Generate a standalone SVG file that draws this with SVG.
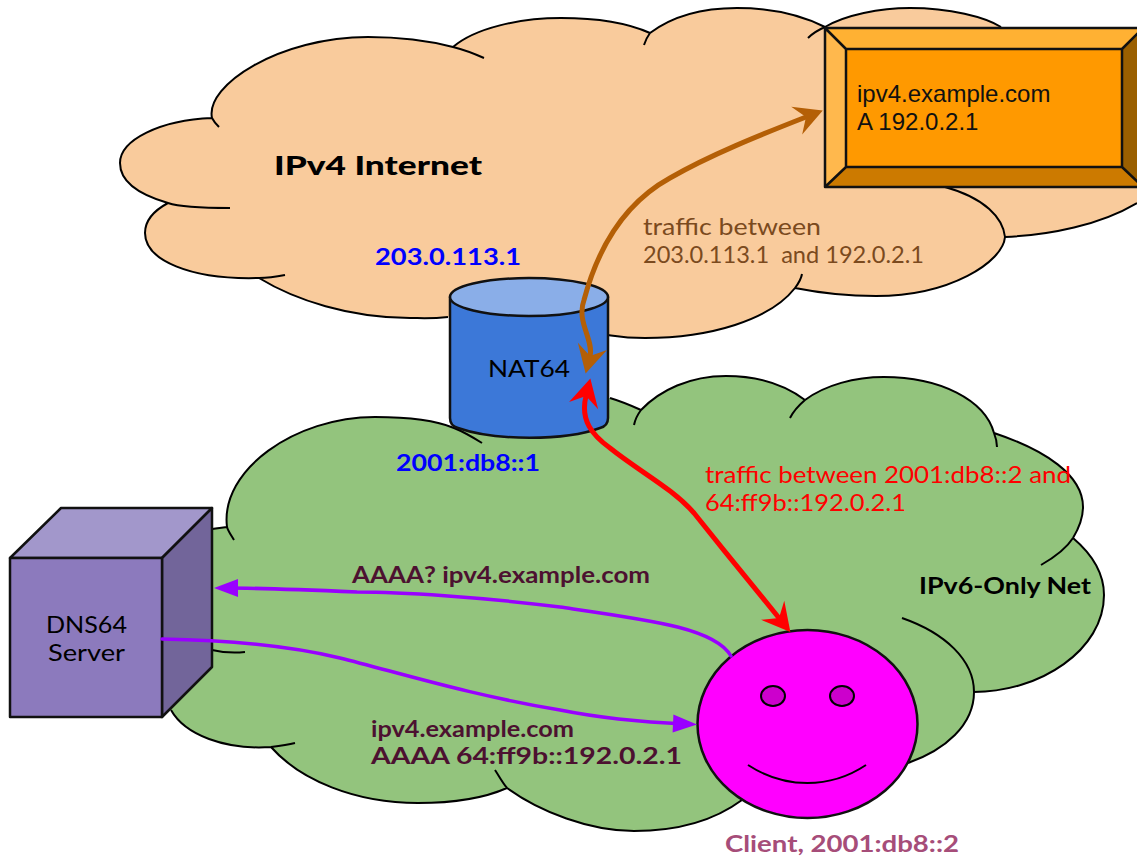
<svg xmlns="http://www.w3.org/2000/svg" width="1137" height="857" viewBox="0 0 1137 857">
<style>
text{font-family:Lato,"Noto Sans",sans-serif;font-size:23px}
.b{font-weight:700}
.bb{font-weight:900;font-size:26px}
.l{stroke:#000;stroke-width:2;fill:none}
.s{stroke:#111;stroke-width:2.5;stroke-linejoin:round}
.br{fill:#7b4a1e}.rd{fill:#ff0000}.bl{fill:#0000ff}.pu{fill:#4c1130}
.a{fill:none;stroke-linecap:round}
.ar{font-family:"Liberation Sans",Arial,sans-serif;font-size:24px;fill:#111}
</style>
<defs>
<marker id="hb" markerUnits="userSpaceOnUse" markerWidth="44" markerHeight="44" refX="22" refY="22" orient="auto-start-reverse" viewBox="0 0 44 44"><path d="M40,22 L12,7 L22,22 L12,37 Z" fill="#b45f06"/></marker>
<marker id="hr" markerUnits="userSpaceOnUse" markerWidth="44" markerHeight="44" refX="22" refY="22" orient="auto-start-reverse" viewBox="0 0 44 44"><path d="M40,22 L12,7 L22,22 L12,37 Z" fill="#ff0000"/></marker>
<marker id="hp" markerUnits="userSpaceOnUse" markerWidth="40" markerHeight="40" refX="20" refY="20" orient="auto" viewBox="0 0 40 40"><path d="M32,20 L8,11 L8,29 Z" fill="#9900ff"/></marker>
</defs>

<g id="cloud-ipv4">
<path fill="#f9cb9c" d="M168,203 C130,192 120,176 120,163 C120,140 160,120 212,118 C205,85 280,37 368,37 C400,37 430,41 453,47 C475,28 520,18 561,18 C600,18 630,24 650,33 C670,18 700,8 737,8 C775,8 805,17 825,27 C845,15 880,8 910,8 C950,8 985,17 1001,27 L1137,27 L1137,203 C1100,225 1050,235 1005,237 C1003,262 950,296 876,296 C845,296 815,292 795,288 C770,320 710,338 645,338 C625,338 615,336 608,335 L448,317 C420,319 410,318 410,318 C350,318 295,300 259,278 C190,280 145,260 145,233 C145,220 155,210 168,203 Z"/>
<path class="l" d="M230,208 C200,208 180,207 168,203 C130,192 120,176 120,163 C120,140 160,120 212,118 M219,127 C215,123 213,120 212,118 C205,85 280,37 368,37 C400,37 430,41 453,47 C465,50 475,54 484,58 M453,47 C475,28 520,18 561,18 C600,18 630,24 650,33 M644,45 C645,42 647,37 650,33 C670,18 700,8 737,8 C775,8 805,17 825,27 M808,38 C812,34 818,30 825,27 C845,15 880,8 910,8 C950,8 985,17 1001,27 M1137,203 C1100,225 1050,235 1005,237 M945,187 C985,198 1003,218 1005,237 C1003,262 950,296 876,296 C845,296 815,292 795,288 M802,274 C801,280 798,284 795,288 C770,320 710,338 645,338 C625,338 615,336 608,335 M448,317 C430,319 420,318 410,318 C350,318 295,300 259,278 M285,275 C275,277 267,278 259,278 C190,280 145,260 145,233 C145,220 155,210 168,203"/>
<text class="bb" x="274" y="175" textLength="208" lengthAdjust="spacingAndGlyphs" fill="#000">IPv4 Internet</text>
</g>

<g id="cloud-ipv6">
<path fill="#93c47d" d="M200,529 L227,527 C220,470 295,417 375,417 C405,417 435,420 454,428 L610,398 C620,401 630,405 641,410 C660,390 690,376 726,376 C760,376 785,385 805,400 C825,385 855,377 884,377 C940,377 985,400 994,433 C1045,450 1083,475 1083,507 C1083,518 1079,528 1073,538 C1093,555 1104,575 1104,595 C1104,650 1040,692 974,692 C974,725 945,750 908,763 L742,800 C715,820 680,831 634,831 C590,831 540,812 507,788 C480,800 450,803 418,803 C355,803 300,780 271,747 C225,750 185,735 171,710 L140,700 L140,540 Z"/>
<path class="l" d="M212,529 L227,527 M234,540 C231,535 228,531 227,527 C220,470 295,417 375,417 C405,417 435,420 454,428 C464,432 474,438 482,443 M610,398 C620,401 630,405 641,410 M634,425 C635,420 638,414 641,410 C660,390 690,376 726,376 C760,376 785,385 805,400 M790,418 C793,412 798,406 805,400 C825,385 855,377 884,377 C940,377 985,400 994,433 C996,438 997,442 997,447 M994,433 C1045,450 1083,475 1083,507 C1083,518 1079,528 1073,538 C1066,549 1055,557 1041,565 M1073,538 C1093,555 1104,575 1104,595 C1104,650 1040,692 974,692 M902,618 C945,633 974,660 974,692 C974,725 945,750 908,763 M742,800 C715,820 680,831 634,831 C590,831 540,812 507,788 C480,800 450,803 418,803 C355,803 300,780 271,747 C225,750 185,735 171,710 M295,743 C287,745 279,746 271,747 M495,770 C499,776 502,782 507,788 M212,650 C225,653 235,653 245,652"/>
<text class="b" x="919" y="594" textLength="172" lengthAdjust="spacingAndGlyphs" fill="#000">IPv6-Only Net</text>
</g>

<g id="server-ipv4">
<path fill="#ffb133" d="M825,28 H1143 L1122,49 H846 Z"/>
<path fill="#ffb84d" d="M825,28 L846,49 V167 L825,187 Z"/>
<path fill="#9a5f00" d="M1143,28 L1122,49 V167 L1143,187 Z"/>
<path fill="#cc7a00" d="M825,187 L846,167 H1122 L1143,187 Z"/>
<rect x="846" y="49" width="276" height="118" fill="#ff9900"/>
<path class="s" fill="none" d="M825,28 H1143 V187 H825 Z M846,49 H1122 V167 H846 Z M825,28 L846,49 M1143,28 L1122,49 M825,187 L846,167 M1143,187 L1122,167"/>
<text class="ar" x="857" y="102">ipv4.example.com</text>
<text class="ar" x="857" y="130">A 192.0.2.1</text>
</g>

<g id="nat64">
<path class="s" fill="#3c78d8" d="M450,297 V418 Q450,426 458,428 C495,441 565,441 600,428 Q608,426 608,418 V297 Z"/>
<ellipse class="s" cx="529" cy="297" rx="79" ry="19" fill="#8aaee8"/>
<text x="488" y="377" textLength="82" lengthAdjust="spacingAndGlyphs" fill="#000">NAT64</text>
</g>

<g id="dns64">
<path class="s" fill="#a297cb" d="M10,558 L61,508 H212 L162,558 Z"/>
<path class="s" fill="#72659a" d="M162,558 L212,508 V667 L162,717 Z"/>
<rect class="s" x="10" y="558" width="152" height="159" fill="#8c7abd"/>
<text x="46" y="633" textLength="81" lengthAdjust="spacingAndGlyphs" fill="#000">DNS64</text>
<text x="48" y="661" textLength="77" lengthAdjust="spacingAndGlyphs" fill="#000">Server</text>
</g>

<g id="client">
<ellipse class="s" cx="807.5" cy="724" rx="110" ry="94" fill="#ff00ff"/>
<ellipse class="l" cx="773" cy="696" rx="12" ry="10" style="fill:#cc00cc"/>
<ellipse class="l" cx="842" cy="696" rx="12" ry="10" style="fill:#cc00cc"/>
<path class="l" d="M748,765 C785,789 830,789 866,765"/>
<text class="b" x="725" y="852" textLength="234" lengthAdjust="spacingAndGlyphs" fill="#a64d79" style="font-size:22px">Client, 2001:db8::2</text>
</g>

<g id="connectors">
<path class="a" stroke="#b45f06" stroke-width="5" marker-start="url(#hb)" marker-end="url(#hb)" d="M590,356 C594,340 576,322 584,300 C600,240 630,200 670,178 C710,155 760,135 806,117"/>
<path class="a" stroke="#ff0000" stroke-width="5" marker-start="url(#hr)" marker-end="url(#hr)" d="M586,396 C580,420 592,435 610,448 C640,472 672,488 694,513 C722,548 752,585 779,618"/>
<path class="a" stroke="#9900ff" stroke-width="3.5" marker-end="url(#hp)" d="M731,656 C715,628 650,620 560,607 C480,597 400,592 357,592 C310,590 260,588 226,588"/>
<path class="a" stroke="#9900ff" stroke-width="3.5" marker-end="url(#hp)" d="M162,639 C220,640 286,645 340,658 C400,673 470,695 560,710 C600,718 640,722 685,724"/>
</g>

<g id="labels">
<text class="b bl" x="375" y="265" textLength="146" lengthAdjust="spacingAndGlyphs">203.0.113.1</text>
<text class="b bl" x="396" y="471" textLength="144" lengthAdjust="spacingAndGlyphs">2001:db8::1</text>
<text class="br" x="643" y="235" textLength="178" lengthAdjust="spacingAndGlyphs">traffic between</text>
<text class="br" x="643" y="263" textLength="281" lengthAdjust="spacingAndGlyphs" xml:space="preserve">203.0.113.1  and 192.0.2.1</text>
<text class="rd" x="705" y="483" textLength="366" lengthAdjust="spacingAndGlyphs">traffic between 2001:db8::2 and</text>
<text class="rd" x="705" y="511" textLength="201" lengthAdjust="spacingAndGlyphs">64:ff9b::192.0.2.1</text>
<text class="b pu" x="352" y="583" textLength="298" lengthAdjust="spacingAndGlyphs">AAAA? ipv4.example.com</text>
<text class="b pu" x="371" y="737" textLength="203" lengthAdjust="spacingAndGlyphs">ipv4.example.com</text>
<text class="b pu" x="371" y="764" textLength="311" lengthAdjust="spacingAndGlyphs">AAAA 64:ff9b::192.0.2.1</text>
</g>
</svg>
